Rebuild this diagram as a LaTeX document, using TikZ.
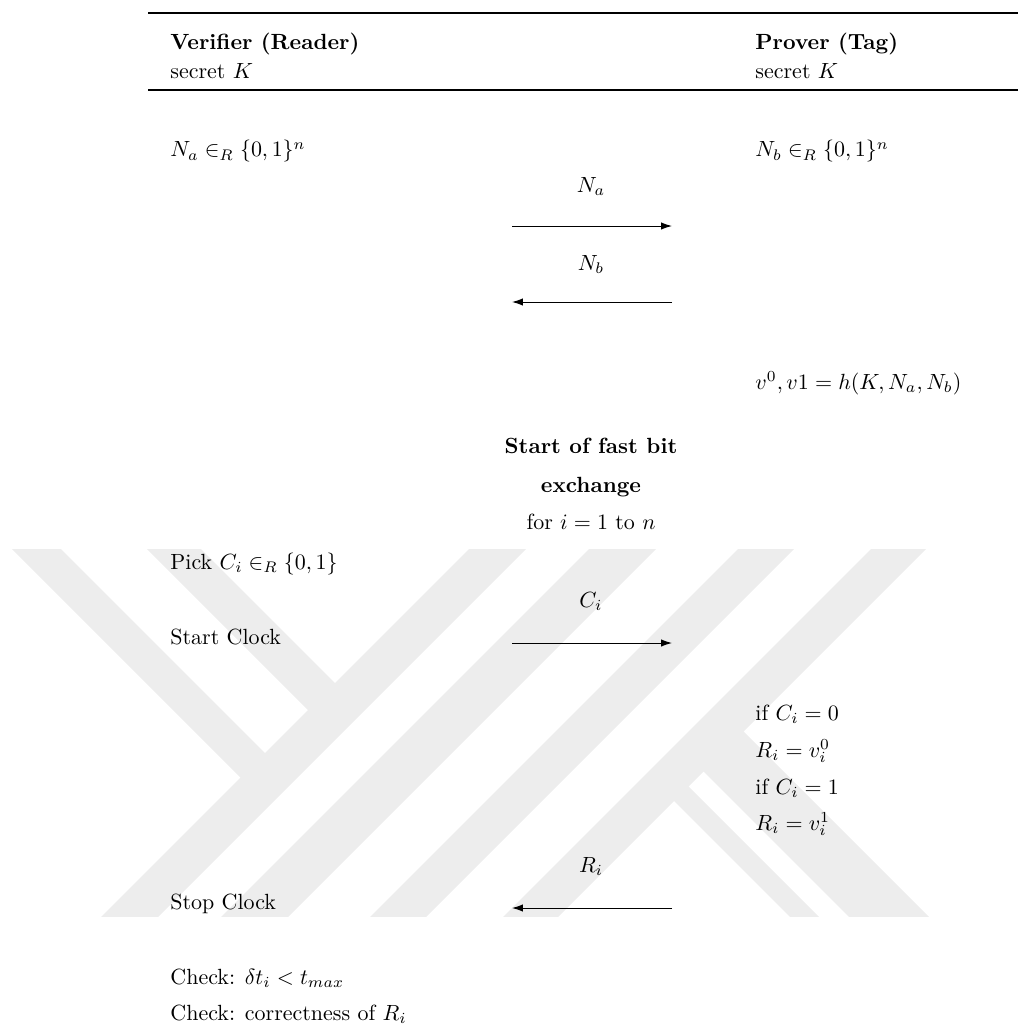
\documentclass[tikz,border=0pt]{standalone}
\usetikzlibrary{arrows.meta}
\definecolor{wmgray}{RGB}{237,237,237}
\begin{document}
\begin{tikzpicture}[x=0.455pt,y=-0.455pt,
  txt/.style={inner sep=0pt, anchor=base west},
  lbl/.style={inner sep=0pt, anchor=base},
  msg/.style={-{Latex[length=5pt,width=3.4pt]}, line width=0.45pt},
  tabrule/.style={line width=0.75pt},
  band/.style={fill=wmgray, draw=none}]
\useasboundingbox (0,0) rectangle (1018,1030);

% background emblem made of diagonal bands
\begin{scope}
  \clip (0,549) rectangle (1018,916);
  \fill[band] (3,540) -- (52,540) -- (271,759) -- (246.5,783.5) -- cycle;
  \fill[band] (138,540) -- (192,540) -- (341,689) -- (314,716) -- cycle;
  \fill[band] (478,540) -- (535,540) -- (145,930) -- (88,930) -- cycle;
  \fill[band] (598,540) -- (665,540) -- (275,930) -- (208,930) -- cycle;
  \fill[band] (747,540) -- (803,540) -- (413,930) -- (357,930) -- cycle;
  \fill[band] (880,540) -- (935,540) -- (545,930) -- (490,930) -- cycle;
  \fill[band] (738.5,726.5) -- (942,930) -- (862,930) -- (698.5,766.5) -- cycle;
  \fill[band] (683.5,781.5) -- (832,930) -- (803,930) -- (669,796) -- cycle;
\end{scope}

% table rules
\coordinate (rt1) at (148,13);  \coordinate (rt2) at (1018,13);
\coordinate (rb1) at (148,90);  \coordinate (rb2) at (1018,90);
\draw[tabrule] (rt1) -- (rt2);
\draw[tabrule] (rb1) -- (rb2);

% header
\node[txt,font=\bfseries] (ver) at (170,50) {Verifier (Reader)};
\node[txt,font=\bfseries] (prv) at (755,50) {Prover (Tag)};
\node[txt] (vk) at (170,79) {secret $K$};
\node[txt] (pk) at (755,79) {secret $K$};

% nonce exchange
\node[txt] (na) at (170,157) {$N_a \in_R \{0,1\}^n$};
\node[txt] (nb) at (755,157) {$N_b \in_R \{0,1\}^n$};
\node[lbl] (lna) at (591,192) {$N_a$};
\coordinate (m1l) at (512,226); \coordinate (m1r) at (672,226);
\draw[msg] (m1l) -- (m1r);
\node[lbl] (lnb) at (591,270) {$N_b$};
\coordinate (m2l) at (512,302); \coordinate (m2r) at (672,302);
\draw[msg] (m2r) -- (m2l);
\node[txt] (hv) at (755,389) {$v^0, v1 = h(K, N_a, N_b)$};

% fast bit exchange
\node[lbl,font=\bfseries] (fb1) at (591,453) {Start of fast bit};
\node[lbl,font=\bfseries] (fb2) at (591,492) {exchange};
\node[lbl] (loop) at (591,529) {for $i = 1$ to $n$};
\node[txt] (pick) at (170,569) {Pick $C_i \in_R \{0,1\}$};
\node[lbl] (lci) at (591,607) {$C_i$};
\node[txt] (start) at (170,644) {Start Clock};
\coordinate (m3l) at (512,643); \coordinate (m3r) at (672,643);
\draw[msg] (m3l) -- (m3r);
\node[txt] (if0) at (755,720) {if $C_i = 0$};
\node[txt] (r0) at (755,757) {$R_i = v_i^0$};
\node[txt] (if1) at (755,794) {if $C_i = 1$};
\node[txt] (r1) at (755,830) {$R_i = v_i^1$};
\node[lbl] (lri) at (591,872) {$R_i$};
\node[txt] (stop) at (170,909) {Stop Clock};
\coordinate (m4l) at (512,908); \coordinate (m4r) at (672,908);
\draw[msg] (m4r) -- (m4l);
\node[txt] (chk1) at (170,984) {Check: $\delta t_i < t_{max}$};
\node[txt] (chk2) at (170,1020) {Check: correctness of $R_i$};
\end{tikzpicture}
\end{document}
